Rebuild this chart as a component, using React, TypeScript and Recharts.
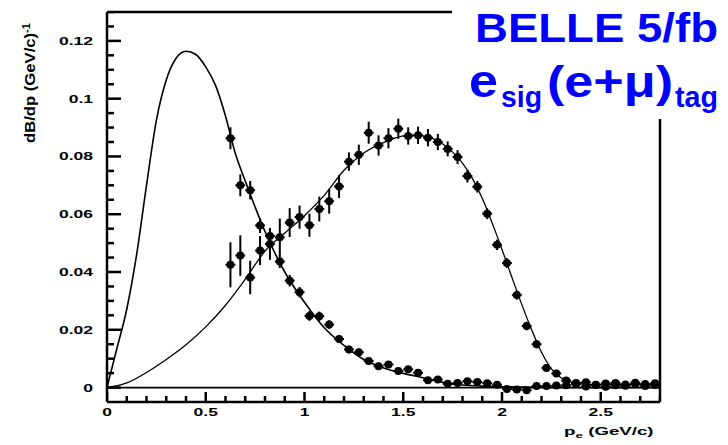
import { ComposedChart, Line, Scatter, ErrorBar, XAxis, YAxis, ReferenceLine } from 'recharts';

// bin centres shared by both measured spectra (bin width 0.05 GeV/c)
const binCenters = [
  0.625, 0.675, 0.725, 0.775, 0.825, 0.875, 0.925, 0.975, 1.025, 1.075, 1.125,
  1.175, 1.225, 1.275, 1.325, 1.375, 1.425, 1.475, 1.525, 1.575, 1.625, 1.675,
  1.725, 1.775, 1.825, 1.875, 1.925, 1.975, 2.025, 2.075, 2.125, 2.175, 2.225,
  2.275, 2.325, 2.375, 2.425, 2.475, 2.525, 2.575, 2.625, 2.675, 2.725, 2.775,
];
const HALF_BIN = 0.025;

// secondary (soft) electrons
const secondaryVals = [
  0.0863, 0.07, 0.0683, 0.0561, 0.0525, 0.0436, 0.037, 0.033, 0.0248, 0.0247, 0.0218,
  0.0168, 0.0132, 0.0122, 0.0092, 0.0074, 0.008, 0.0057, 0.0063, 0.0051, 0.0025, 0.0028,
  0.0013, 0.0016, 0.0022, 0.0019, 0.0015, 0.001, -0.0005, -0.0007, -0.0009, 0.0005, 0.0005,
  0.0007, 0.0008, 0.0012, 0.0004, 0.001, 0.0003, 0.0008, 0.0006, 0.0012, 0.0005, 0.0009,
];
const secondaryErr = [
  0.0038, 0.0038, 0.0032, 0.0026, 0.0024, 0.0022, 0.002, 0.0018, 0.0017, 0.0016, 0.0015,
  0.0014, 0.0013, 0.0013, 0.0012, 0.0012, 0.0011, 0.0011, 0.001, 0.001, 0.001, 0.0009,
  0.0009, 0.0009, 0.0008, 0.0008, 0.0008, 0.0008, 0.0008, 0.0008, 0.0008, 0.0007, 0.0007,
  0.0007, 0.0007, 0.0007, 0.0007, 0.0007, 0.0007, 0.0007, 0.0007, 0.0007, 0.0007, 0.0007,
];

// primary (hard) electrons
const primaryVals = [
  0.0425, 0.0457, 0.0381, 0.0474, 0.0497, 0.052, 0.0571, 0.059, 0.0562, 0.0618, 0.0645,
  0.0696, 0.0782, 0.0806, 0.0882, 0.0838, 0.0863, 0.0896, 0.0871, 0.0873, 0.0865, 0.085,
  0.0826, 0.0798, 0.0732, 0.0695, 0.0602, 0.0494, 0.0431, 0.032, 0.0213, 0.015, 0.0068,
  0.0049, 0.0024, 0.0016, 0.0018, 0.0009, 0.0014, 0.0016, 0.0011, 0.0017, 0.0012, 0.0015,
];
const primaryErr = [
  0.0078, 0.007, 0.0058, 0.005, 0.0055, 0.0065, 0.005, 0.004, 0.004, 0.0043, 0.0043,
  0.004, 0.0032, 0.0035, 0.0038, 0.0035, 0.0035, 0.0035, 0.003, 0.003, 0.003, 0.0028,
  0.0026, 0.0024, 0.0022, 0.002, 0.0019, 0.0018, 0.0017, 0.0016, 0.0015, 0.0014, 0.0013,
  0.0012, 0.0011, 0.001, 0.0009, 0.0009, 0.0009, 0.0009, 0.0009, 0.0009, 0.0009, 0.0009,
];

// fitted shapes
const softFitP = [
  0, 0.05, 0.1, 0.15, 0.2, 0.25, 0.3, 0.35, 0.4, 0.45, 0.5, 0.55, 0.6, 0.65, 0.7, 0.75,
  0.8, 0.9, 1.0, 1.1, 1.2, 1.3, 1.4, 1.5, 1.6, 1.7, 1.8, 1.9, 2.0, 2.2, 2.4, 2.6, 2.8,
];
const softFit = [
  0, 0.0135, 0.0271, 0.046, 0.07, 0.0925, 0.1065, 0.114, 0.1164, 0.1153, 0.111, 0.1045,
  0.094, 0.081, 0.0715, 0.0625, 0.054, 0.04, 0.0295, 0.0207, 0.0146, 0.0097, 0.0068,
  0.0049, 0.0034, 0.0018, 0.0009, 0.0005, 0.0003, 0.0001, 0, 0, 0,
];
const hardFitP = [
  0, 0.1, 0.2, 0.3, 0.4, 0.5, 0.6, 0.7, 0.8, 0.9, 1.0, 1.1, 1.2, 1.3, 1.4, 1.5, 1.55,
  1.6, 1.65, 1.7, 1.75, 1.8, 1.85, 1.9, 1.95, 2.0, 2.05, 2.1, 2.15, 2.2, 2.25, 2.3,
  2.35, 2.4, 2.5, 2.6, 2.7, 2.8,
];
const hardFit = [
  0, 0.0016, 0.0052, 0.0097, 0.0148, 0.021, 0.0285, 0.0375, 0.0472, 0.0535, 0.0595,
  0.0665, 0.0752, 0.0812, 0.0848, 0.0871, 0.0874, 0.0871, 0.0862, 0.0843, 0.0815,
  0.0777, 0.0724, 0.0655, 0.057, 0.0478, 0.0382, 0.0288, 0.02, 0.0122, 0.0065, 0.0033,
  0.0019, 0.0013, 0.001, 0.001, 0.001, 0.001,
];

const xMajorTicks = [0, 0.5, 1, 1.5, 2, 2.5];
const yMajorTicks = [0, 0.02, 0.04, 0.06, 0.08, 0.1, 0.12];

const X_MIN = 0;
const X_MAX = 2.8;
const Y_MIN = -0.005;
const Y_MAX = 0.13;

const points = (vals: number[], errs: number[]) =>
  binCenters.map((p, i) => ({ p, v: vals[i], e: errs[i], w: HALF_BIN }));
const curve = (ps: number[], vs: number[]) => ps.map((p, i) => ({ p, v: vs[i] }));

const secondaryPts = points(secondaryVals, secondaryErr);
const primaryPts = points(primaryVals, primaryErr);
const softLine = curve(softFitP, softFit);
const hardLine = curve(hardFitP, hardFit);

const isMajor = (v: number, majors: number[]) => majors.some((m) => Math.abs(m - v) < 1e-6);
const fmt = (v: number) => String(Number(v.toFixed(3)));

// frame ticks: every 0.1 along the bottom edge, every 0.005 up the left edge
const xTickMarks = Array.from({ length: 29 }, (_, i) => i / 10).map((p) => ({
  p, v: Y_MIN, len: isMajor(p, xMajorTicks) ? 10 : 6,
}));
const yTickMarks = Array.from({ length: 27 }, (_, i) => (i * 5) / 1000).map((v) => ({
  p: X_MIN, v, len: isMajor(v, yMajorTicks) ? 14 : 7,
}));

const FONT = '"Liberation Sans", Arial, sans-serif';
const AXIS = { stroke: '#000', strokeWidth: 2.5 };

const XTick = ({ x, y, payload }: any) =>
  isMajor(payload.value, xMajorTicks) ? (
    <text transform={`translate(${x},${y + 14}) scale(1.75,1)`} textAnchor="middle"
      fontSize={10} fontWeight="bold" fontFamily={FONT} fill="#000">
      {fmt(payload.value)}
    </text>
  ) : <g />;

const YTick = ({ x, y, payload }: any) =>
  isMajor(payload.value, yMajorTicks) ? (
    <text transform={`translate(${x - 14},${y + 4}) scale(1.75,1)`} textAnchor="end"
      fontSize={10} fontWeight="bold" fontFamily={FONT} fill="#000">
      {fmt(payload.value)}
    </text>
  ) : <g />;

const UpTick = (props: any) => {
  const len = props.payload?.len ?? props.len;
  return <line x1={props.cx} x2={props.cx} y1={props.cy} y2={props.cy - len} stroke="#000" strokeWidth={2.5} />;
};
const RightTick = (props: any) => {
  const len = props.payload?.len ?? props.len;
  return <line x1={props.cx} x2={props.cx + len} y1={props.cy} y2={props.cy} stroke="#000" strokeWidth={2.5} />;
};

const Dot = (props: any) => <circle cx={props.cx} cy={props.cy} r={4} fill="#000" />;

export default function App() {
  return (
    <div style={{ position: 'absolute', left: 0, top: 0, width: 728, height: 445, background: '#fff' }}>
      <ComposedChart width={728} height={445} margin={{ top: 0, right: 0, bottom: 0, left: 0 }}>
        <XAxis dataKey="p" type="number" domain={[X_MIN, X_MAX]} ticks={xMajorTicks} interval={0}
          height={43} tickSize={0} tickMargin={0} tick={<XTick />} axisLine={AXIS} allowDataOverflow />
        <XAxis xAxisId="top" orientation="top" type="number" domain={[X_MIN, X_MAX]} height={12}
          tick={false} tickLine={false} axisLine={AXIS} />
        <YAxis type="number" domain={[Y_MIN, Y_MAX]} ticks={yMajorTicks} interval={0}
          width={107} tickSize={0} tickMargin={0} tick={<YTick />} axisLine={AXIS} allowDataOverflow />
        <YAxis yAxisId="right" orientation="right" type="number" domain={[Y_MIN, Y_MAX]} width={68}
          tick={false} tickLine={false} axisLine={AXIS} />
        <Scatter data={xTickMarks} dataKey="v" shape={<UpTick />} isAnimationActive={false} />
        <Scatter data={yTickMarks} dataKey="v" shape={<RightTick />} isAnimationActive={false} />
        <ReferenceLine y={0} stroke="#000" strokeWidth={1.8} />
        <Line data={softLine} dataKey="v" type="monotone" dot={false} stroke="#000"
          strokeWidth={1.6} isAnimationActive={false} />
        <Line data={hardLine} dataKey="v" type="monotone" dot={false} stroke="#000"
          strokeWidth={1.3} isAnimationActive={false} />
        <Scatter data={secondaryPts} dataKey="v" shape={<Dot />} isAnimationActive={false}>
          <ErrorBar dataKey="e" direction="y" width={0} stroke="#000" strokeWidth={2} isAnimationActive={false} />
          <ErrorBar dataKey="w" direction="x" width={0} stroke="#000" strokeWidth={2} isAnimationActive={false} />
        </Scatter>
        <Scatter data={primaryPts} dataKey="v" shape={<Dot />} isAnimationActive={false}>
          <ErrorBar dataKey="e" direction="y" width={0} stroke="#000" strokeWidth={2} isAnimationActive={false} />
          <ErrorBar dataKey="w" direction="x" width={0} stroke="#000" strokeWidth={2} isAnimationActive={false} />
        </Scatter>
      </ComposedChart>
      <svg width={728} height={445} style={{ position: 'absolute', left: 0, top: 0, pointerEvents: 'none' }}
        fontFamily={FONT} fontWeight="bold">
        <rect x={452} y={0} width={276} height={119} fill="#fff" />
        <text x={475} y={42} fontSize={40} fill="#0000ff" textLength={243} lengthAdjust="spacingAndGlyphs">
          BELLE 5/fb
        </text>
        <text x={469} y={97} fontSize={46} fill="#0000ff" textLength={29} lengthAdjust="spacingAndGlyphs">e</text>
        <text x={501} y={107} fontSize={30} fill="#0000ff" textLength={41} lengthAdjust="spacingAndGlyphs">sig</text>
        <text x={547} y={97} fontSize={44} fill="#0000ff" textLength={126} lengthAdjust="spacingAndGlyphs">(e+μ)</text>
        <text x={675} y={107} fontSize={30} fill="#0000ff" textLength={43} lengthAdjust="spacingAndGlyphs">tag</text>
        <text transform="translate(35,143) rotate(-90)" fontSize={15} fill="#000" textLength={120}
          lengthAdjust="spacingAndGlyphs">
          dB/dp  (GeV/c)<tspan dy={-5} fontSize={10}>-1</tspan>
        </text>
        <text transform="translate(564,435) scale(1.7,1)" fontSize={11} fill="#000">
          p<tspan dy={3} fontSize={8}>e</tspan><tspan dy={-3}> (GeV/c)</tspan>
        </text>
      </svg>
    </div>
  );
}
